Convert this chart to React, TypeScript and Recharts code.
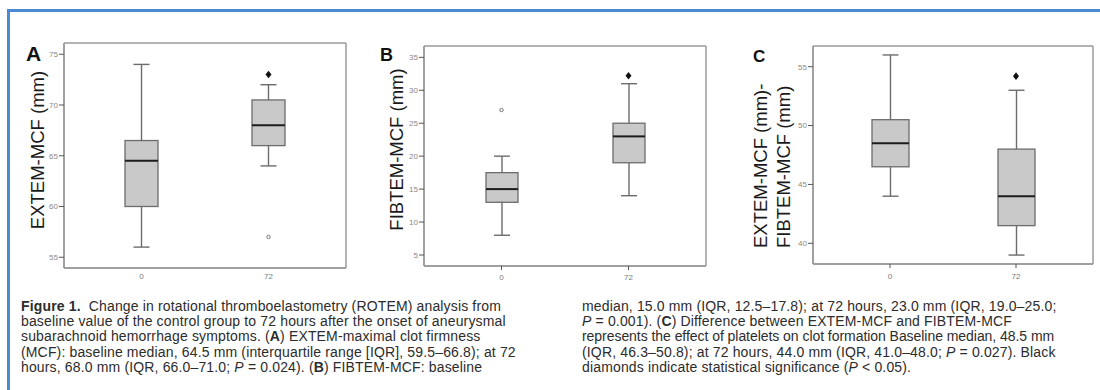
import React from "react";
import { ComposedChart, Bar, Scatter, XAxis, YAxis, CartesianGrid } from "recharts";

// time points (hours)
const CATS = ["0", "72"];

// A: EXTEM-MCF
const A_MIN = [56, 64];
const A_Q1 = [60, 66];
const A_MED = [64.5, 68];
const A_Q3 = [66.5, 70.5];
const A_MAX = [74, 72];
const A_OUT = [null, 57];
const A_SIG = [null, 73];
const A_TICKS = [55, 60, 65, 70, 75];

// B: FIBTEM-MCF
const B_MIN = [8, 14];
const B_Q1 = [13, 19];
const B_MED = [15, 23];
const B_Q3 = [17.5, 25];
const B_MAX = [20, 31];
const B_OUT = [27, null];
const B_SIG = [null, 32.2];
const B_TICKS = [5, 10, 15, 20, 25, 30, 35];

// C: EXTEM-MCF minus FIBTEM-MCF
const C_MIN = [44, 39];
const C_Q1 = [46.5, 41.5];
const C_MED = [48.5, 44];
const C_Q3 = [50.5, 48];
const C_MAX = [56, 53];
const C_OUT = [null, null];
const C_SIG = [null, 54.2];
const C_TICKS = [40, 45, 50, 55];

type Row = {
  t: string;
  min: number;
  q1: number;
  med: number;
  q3: number;
  max: number;
  out: number | null;
  sig: number | null;
};

const makeRows = (
  min: number[],
  q1: number[],
  med: number[],
  q3: number[],
  max: number[],
  out: (number | null)[],
  sig: (number | null)[]
): Row[] =>
  CATS.map((t, i) => ({
    t,
    min: min[i],
    q1: q1[i],
    med: med[i],
    q3: q3[i],
    max: max[i],
    out: out[i],
    sig: sig[i],
  }));

const FONT = '"Liberation Sans", Arial, Helvetica, sans-serif';
const LINE = "#6c6c6c";
const FRAME = "#9a9a9a";

// whiskers, box and median drawn inside the bar's [min, max] pixel range
const BoxShape = (props: any) => {
  const { x, y, width, height, payload } = props;
  if (!payload) return <g />;
  const top = Math.min(y, y + height);
  const h = Math.abs(height);
  const span = payload.max - payload.min;
  const py = (v: number) => top + ((payload.max - v) / span) * h;
  const cx = x + width / 2;
  const cap = 8;
  const yMax = py(payload.max);
  const yQ3 = py(payload.q3);
  const yMed = py(payload.med);
  const yQ1 = py(payload.q1);
  const yMin = py(payload.min);
  return (
    <g>
      <line x1={cx} x2={cx} y1={yMax} y2={yQ3} stroke={LINE} strokeWidth={1.4} />
      <line x1={cx} x2={cx} y1={yQ1} y2={yMin} stroke={LINE} strokeWidth={1.4} />
      <line x1={cx - cap} x2={cx + cap} y1={yMax} y2={yMax} stroke={LINE} strokeWidth={1.4} />
      <line x1={cx - cap} x2={cx + cap} y1={yMin} y2={yMin} stroke={LINE} strokeWidth={1.4} />
      <rect
        x={x}
        y={yQ3}
        width={width}
        height={yQ1 - yQ3}
        fill="#c9c9c9"
        stroke={LINE}
        strokeWidth={1.3}
      />
      <line x1={x} x2={x + width} y1={yMed} y2={yMed} stroke="#1c1c1c" strokeWidth={2} />
    </g>
  );
};

const OutlierShape = (props: any) => {
  const { cx, cy, payload } = props;
  if (!payload || payload.out == null || !isFinite(cy)) return <g />;
  return <circle cx={cx} cy={cy} r={1.7} fill="#fff" stroke="#777" strokeWidth={1} />;
};

const DiamondShape = (props: any) => {
  const { cx, cy, payload } = props;
  if (!payload || payload.sig == null || !isFinite(cy)) return <g />;
  return (
    <path
      d={`M${cx},${cy - 3.8} L${cx + 3},${cy} L${cx},${cy + 3.8} L${cx - 3},${cy} Z`}
      fill="#111"
    />
  );
};

type PanelProps = {
  rows: Row[];
  ticks: number[];
  domain: [number, number];
  letter: string;
  letterSize: number;
  letterX: number;
  letterY: number;
  titles: string[];
  titleX: number;
  titleY: number;
  left: number;
  top: number;
  yWidth: number;
  plotW: number;
  plotH: number;
  barSize: number;
  xTickLine: boolean;
  xTickMargin: number;
};

const Panel = ({
  rows,
  ticks,
  domain,
  letter,
  letterSize,
  letterX,
  letterY,
  titles,
  titleX,
  titleY,
  left,
  top,
  yWidth,
  plotW,
  plotH,
  barSize,
  xTickLine,
  xTickMargin,
}: PanelProps) => {
  const mTop = 5;
  const mRight = 5;
  const xH = 24;
  const width = yWidth + plotW + mRight;
  const height = mTop + plotH + xH;
  const pad = Math.round(plotW * 0.05);

  const titleContent = () => (
    <g>
      <text
        x={letterX}
        y={letterY}
        fontFamily={FONT}
        fontWeight="bold"
        fontSize={letterSize}
        fill="#111"
      >
        {letter}
      </text>
      {titles.map((s, i) => {
        const bx = titleX + i * 23;
        return (
          <text
            key={i}
            x={bx}
            y={titleY}
            transform={`rotate(-90, ${bx}, ${titleY})`}
            textAnchor={titles.length === 1 ? "middle" : "start"}
            fontFamily={FONT}
            fontSize={18.5}
            fill="#1a1a1a"
          >
            {s}
          </text>
        );
      })}
    </g>
  );

  return (
    <div style={{ position: "absolute", left, top, width, height }}>
      <ComposedChart
        width={width}
        height={height}
        data={rows}
        margin={{ top: mTop, right: mRight, left: 0, bottom: 0 }}
      >
        <CartesianGrid
          stroke={FRAME}
          strokeWidth={1.5}
          horizontalPoints={[mTop, mTop + plotH]}
          verticalPoints={[yWidth, yWidth + plotW]}
        />
        <XAxis
          dataKey="t"
          height={xH}
          padding={{ left: pad, right: pad }}
          axisLine={{ stroke: FRAME, strokeWidth: 1.5 }}
          tickLine={xTickLine ? { stroke: "#555" } : false}
          tickSize={4}
          tickMargin={xTickMargin}
          tick={{ fill: "#777", fontSize: 8, fontFamily: FONT }}
        />
        <YAxis
          width={yWidth}
          domain={domain}
          ticks={ticks}
          allowDataOverflow
          axisLine={{ stroke: FRAME, strokeWidth: 1.5 }}
          tickLine={{ stroke: "#555" }}
          tickSize={5}
          tickMargin={1}
          tick={{ fill: "#888", fontSize: 8, fontFamily: FONT }}
          label={{ content: titleContent }}
        />
        <Bar
          dataKey={(d: Row) => [d.min, d.max]}
          barSize={barSize}
          isAnimationActive={false}
          shape={(p: any) => <BoxShape {...p} />}
        />
        <Scatter dataKey="out" isAnimationActive={false} shape={OutlierShape} />
        <Scatter dataKey="sig" isAnimationActive={false} shape={DiamondShape} />
      </ComposedChart>
    </div>
  );
};

const CAPTION_LEFT: React.ReactNode[] = [
  <>
    <b>Figure 1.</b>&nbsp; Change in rotational thromboelastometry (ROTEM) analysis from
  </>,
  <>baseline value of the control group to 72 hours after the onset of aneurysmal</>,
  <>
    subarachnoid hemorrhage symptoms. (<b>A</b>) EXTEM-maximal clot firmness
  </>,
  <>(MCF): baseline median, 64.5 mm (interquartile range [IQR], 59.5–66.8); at 72</>,
  <>
    hours, 68.0 mm (IQR, 66.0–71.0; <i>P</i> = 0.024). (<b>B</b>) FIBTEM-MCF: baseline
  </>,
];

const CAPTION_RIGHT: React.ReactNode[] = [
  <>median, 15.0 mm (IQR, 12.5–17.8); at 72 hours, 23.0 mm (IQR, 19.0–25.0;</>,
  <>
    <i>P</i> = 0.001). (<b>C</b>) Difference between EXTEM-MCF and FIBTEM-MCF
  </>,
  <span style={{ letterSpacing: -0.05 }}>
    represents the effect of platelets on clot formation Baseline median, 48.5 mm
  </span>,
  <>
    (IQR, 46.3–50.8); at 72 hours, 44.0 mm (IQR, 41.0–48.0; <i>P</i> = 0.027). Black
  </>,
  <>
    diamonds indicate statistical significance (<i>P</i> &lt; 0.05).
  </>,
];

const Caption = ({ lines, left }: { lines: React.ReactNode[]; left: number }) => (
  <div
    style={{
      position: "absolute",
      left,
      top: 299,
      fontFamily: FONT,
      fontSize: 14,
      letterSpacing: 0.15,
      lineHeight: "15.2px",
      color: "#2c2c2c",
    }}
  >
    {lines.map((l, i) => (
      <div key={i} style={{ whiteSpace: "nowrap" }}>
        {l}
      </div>
    ))}
  </div>
);

export default function App() {
  const rowsA = makeRows(A_MIN, A_Q1, A_MED, A_Q3, A_MAX, A_OUT, A_SIG);
  const rowsB = makeRows(B_MIN, B_Q1, B_MED, B_Q3, B_MAX, B_OUT, B_SIG);
  const rowsC = makeRows(C_MIN, C_Q1, C_MED, C_Q3, C_MAX, C_OUT, C_SIG);

  return (
    <div
      style={{
        position: "absolute",
        left: 0,
        top: 0,
        width: 1100,
        height: 390,
        background: "#fff",
        overflow: "hidden",
      }}
    >
      <div style={{ position: "absolute", left: 7, top: 9, width: 1093, height: 2.5, background: "#4a8ad2" }} />
      <div style={{ position: "absolute", left: 7, top: 9, width: 2.5, height: 381, background: "#4a8ad2" }} />

      <Panel
        rows={rowsA}
        ticks={A_TICKS}
        domain={[53.94, 76.11]}
        letter="A"
        letterSize={21}
        letterX={16}
        letterY={23}
        titles={["EXTEM-MCF (mm)"]}
        titleX={33.5}
        titleY={112}
        left={10}
        top={38}
        yWidth={54}
        plotW={282}
        plotH={225}
        barSize={33}
        xTickLine={false}
        xTickMargin={1}
      />
      <Panel
        rows={rowsB}
        ticks={B_TICKS}
        domain={[3.33, 36.72]}
        letter="B"
        letterSize={18}
        letterX={5}
        letterY={20}
        titles={["FIBTEM-MCF (mm)"]}
        titleX={28}
        titleY={108.5}
        left={375}
        top={41}
        yWidth={49}
        plotW={282}
        plotH={220}
        barSize={32}
        xTickLine={true}
        xTickMargin={4}
      />
      <Panel
        rows={rowsC}
        ticks={C_TICKS}
        domain={[38.24, 56.76]}
        letter="C"
        letterSize={17}
        letterX={8}
        letterY={21}
        titles={["EXTEM-MCF (mm)-", "FIBTEM-MCF (mm)"]}
        titleX={22}
        titleY={207}
        left={745}
        top={41}
        yWidth={68}
        plotW={280}
        plotH={218}
        barSize={37}
        xTickLine={true}
        xTickMargin={5}
      />

      <Caption lines={CAPTION_LEFT} left={21} />
      <Caption lines={CAPTION_RIGHT} left={582} />
    </div>
  );
}
